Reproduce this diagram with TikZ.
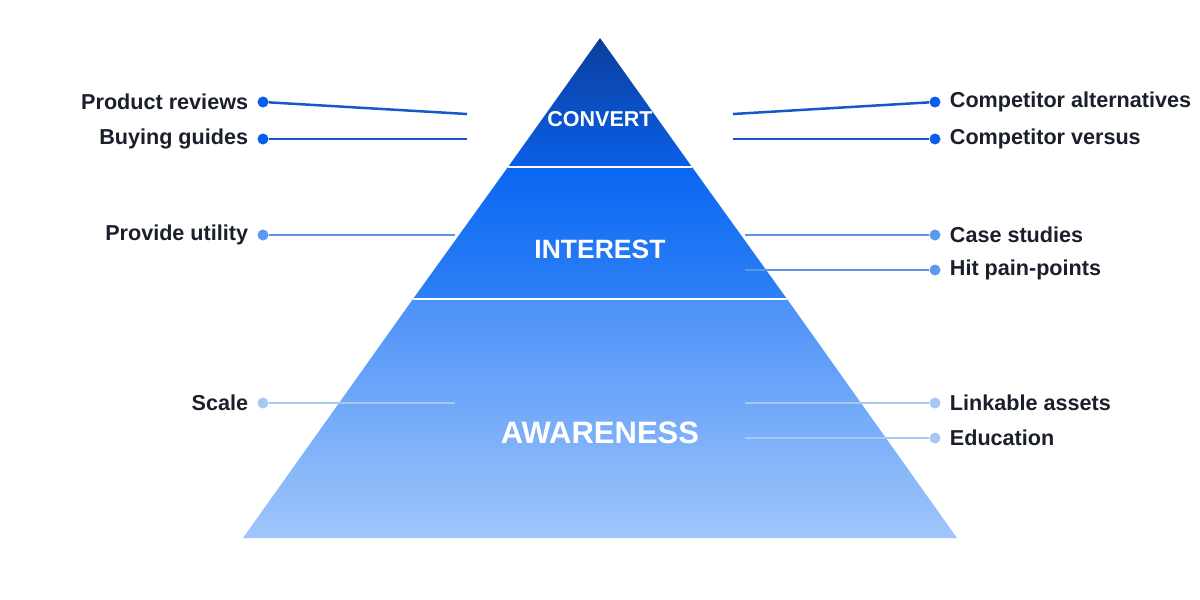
\documentclass[tikz,border=0pt]{standalone}
\usepackage{fontspec}
\setmainfont{Liberation Sans}
\definecolor{convtop}{HTML}{0B3E9C}
\definecolor{convbot}{HTML}{0A5FE8}
\definecolor{inttop}{HTML}{0A67F3}
\definecolor{intbot}{HTML}{2E80F5}
\definecolor{awatop}{HTML}{4B91F7}
\definecolor{awabot}{HTML}{A0C6FB}
\definecolor{dottop}{HTML}{0A5EEE}
\definecolor{dotmid}{HTML}{5C9AF0}
\definecolor{dotlow}{HTML}{A8C8F4}
\definecolor{linetop}{HTML}{1858C6}
\definecolor{linemid}{HTML}{5A95E6}
\definecolor{linelow}{HTML}{A9C8F0}
\definecolor{tagtext}{HTML}{1B1F2B}

\begin{document}
\begin{tikzpicture}
    [
    x=1pt,y=-1pt,
    dot/.style={circle,inner sep=0pt,minimum size=11pt},
    tag/.style={font=\fontsize{21.6}{24}\selectfont\bfseries,text=tagtext,inner sep=0pt},
    tier/.style={text=white,inner sep=0pt},
    label distance=9pt,
    ]
    \useasboundingbox (0,0) rectangle (1200,600);

    \shade [top color=convtop,bottom color=convbot] (600,38) -- (692,167) -- (508,167) -- cycle;
    \shade [top color=inttop,bottom color=intbot] (508,167) -- (692,167) -- (787,299) -- (413,299) -- cycle;
    \shade [top color=awatop,bottom color=awabot] (413,299) -- (787,299) -- (957,538) -- (243,538) -- cycle;
    \draw [white,line width=2pt] (508,167) -- (692,167);
    \draw [white,line width=2pt] (413,299) -- (787,299);

    \node (convert) at (600,119) [tier,font=\fontsize{21.5}{24}\selectfont\bfseries] {CONVERT};
    \node (interest) at (600,249) [tier,font=\fontsize{26.5}{30}\selectfont\bfseries] {INTEREST};
    \node (awareness) at (600,433) [tier,font=\fontsize{31}{34}\selectfont\bfseries] {AWARENESS};

    \node (l1) at (263,102) [dot,fill=dottop,label={[tag]left:Product reviews}] {};
    \node (l2) at (263,139) [dot,fill=dottop,label={[tag]left:Buying guides}] {};
    \node (l3) at (263,235) [dot,fill=dotmid,label={[tag]left:Provide utility}] {};
    \node (l4) at (263,403) [dot,fill=dotlow,label={[tag]left:Scale}] {};
    \node (r1) at (935,102) [dot,fill=dottop,label={[tag]right:Competitor alternatives}] {};
    \node (r2) at (935,139) [dot,fill=dottop,label={[tag]right:Competitor versus}] {};
    \node (r3) at (935,235) [dot,fill=dotmid,label={[tag]right:Case studies}] {};
    \node (r4) at (935,270) [dot,fill=dotmid,label={[tag]right:Hit pain-points}] {};
    \node (r5) at (935,403) [dot,fill=dotlow,label={[tag]right:Linkable assets}] {};
    \node (r6) at (935,438) [dot,fill=dotlow,label={[tag]right:Education}] {};

    \coordinate (l1e) at (467,114);
    \coordinate (l2e) at (467,139);
    \coordinate (l3e) at (455,235);
    \coordinate (l4e) at (455,403);
    \coordinate (r1e) at (733,114);
    \coordinate (r2e) at (733,139);
    \coordinate (r3e) at (745,235);
    \coordinate (r4e) at (745,270);
    \coordinate (r5e) at (745,403);
    \coordinate (r6e) at (745,438);
    \draw [linetop,line width=2.5pt] (l1) to (l1e);
    \draw [linetop,line width=2.5pt] (l2) to (l2e);
    \draw [linemid,line width=2pt] (l3) to (l3e);
    \draw [linelow,line width=2pt] (l4) to (l4e);
    \draw [linetop,line width=2.5pt] (r1) to (r1e);
    \draw [linetop,line width=2.5pt] (r2) to (r2e);
    \draw [linemid,line width=2pt] (r3) to (r3e);
    \draw [linemid,line width=2pt] (r4) to (r4e);
    \draw [linelow,line width=2pt] (r5) to (r5e);
    \draw [linelow,line width=2pt] (r6) to (r6e);
\end{tikzpicture}
\end{document}
